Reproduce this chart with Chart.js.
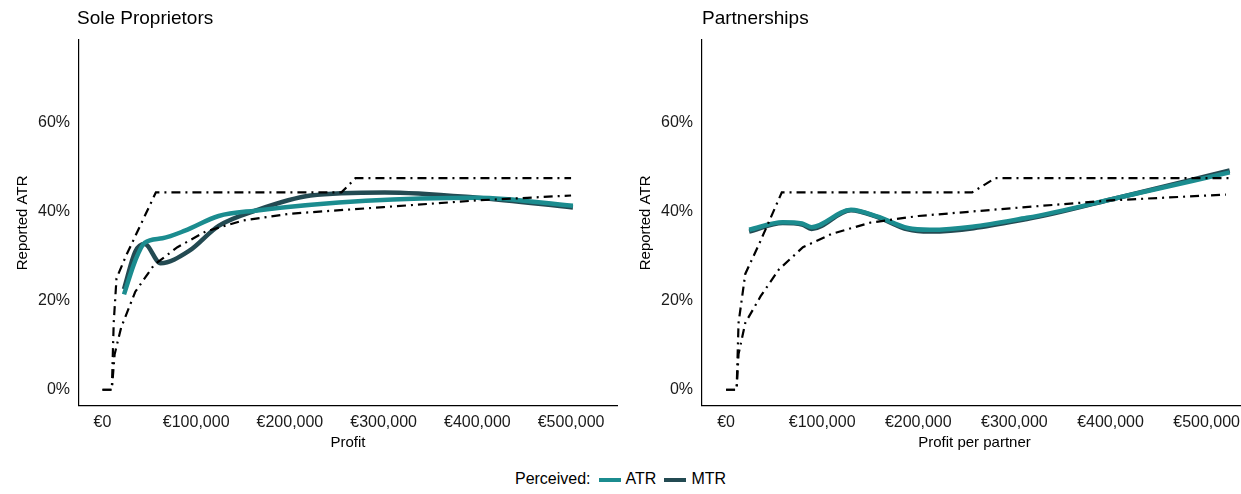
<!DOCTYPE html>
<html>
<head>
<meta charset="utf-8">
<script src="https://cdn.jsdelivr.net/npm/chart.js@4"></script>
<style>
  body { margin: 0; background: #fff; font-family: "Liberation Sans", Arial, sans-serif; overflow: hidden; }
  .panel { position: absolute; top: 0; height: 456px; }
  #left { left: 0; width: 624px; }
  #right { left: 624px; width: 623px; }
  .title { position: absolute; top: 7px; font-size: 19px; color: #000; }
  #legend { position: absolute; top: 470px; left: 0; width: 1241px; text-align: center; font-size: 16px; color: #000; }
  #legend span.sw { display: inline-block; width: 22px; height: 4px; vertical-align: middle; margin: 0 5px 0 8px; }
</style>
</head>
<body>
<div class="panel" id="left"><canvas id="c1"></canvas></div>
<div class="panel" id="right"><canvas id="c2"></canvas></div>
<div class="title" style="left:77px">Sole Proprietors</div>
<div class="title" style="left:702px">Partnerships</div>
<div id="legend">Perceived:<span class="sw" style="background:#1b8c8f"></span>ATR<span class="sw" style="background:#234a52"></span>MTR</div>
<script>
// Sole proprietors (profit in €, rate in %)
var soleAtrX = [23000, 35000, 45000, 64000, 88000, 124000, 163000, 281000, 400000, 502000];
var soleAtrY = [21.4, 29, 33, 34, 35.7, 39, 40.2, 42.4, 43.1, 41.3];
var soleMtrX = [23000, 35000, 45000, 62000, 92000, 124000, 163000, 222000, 301000, 400000, 502000];
var soleMtrY = [22.6, 31, 32.7, 28.4, 31.1, 36.8, 40.2, 43.6, 44.3, 43.1, 40.9];
var soleStatMtrX = [0, 10000, 12000, 15000, 25000, 57000, 255000, 270000, 500000];
var soleStatMtrY = [0, 0, 15, 25, 30, 44.3, 44.3, 47.5, 47.5];
var soleStatAtrX = [0, 10000, 13000, 20000, 35000, 55000, 80000, 110000, 150000, 200000, 300000, 400000, 500000];
var soleStatAtrY = [0, 0, 8, 14, 22, 28, 32, 35.5, 38, 39.5, 41, 42.5, 43.6];

// Partnerships (profit per partner)
var partAtrX = [24000, 59000, 79000, 89000, 130000, 157000, 189000, 212000, 313000, 410000, 524000];
var partAtrY = [35.9, 37.6, 37.3, 36.5, 40.4, 38.9, 36.3, 35.9, 38.6, 43.2, 48.8];
var partMtrX = [24000, 59000, 79000, 89000, 130000, 157000, 189000, 212000, 313000, 410000, 524000];
var partMtrY = [35.5, 37.4, 37.1, 36.1, 40.3, 38.8, 36.0, 35.5, 38.3, 43.2, 49.2];
var partStatMtrX = [0, 11000, 13000, 20000, 35000, 58000, 256000, 280000, 525000];
var partStatMtrY = [0, 0, 15, 26, 33, 44.3, 44.3, 47.5, 47.5];
var partStatAtrX = [0, 11000, 13000, 20000, 36000, 55000, 80000, 110000, 150000, 200000, 300000, 400000, 520000];
var partStatAtrY = [0, 0, 8, 15, 21, 27, 32, 35, 37.5, 39, 40.8, 42.5, 43.8];

var xTicks = [0, 100000, 200000, 300000, 400000, 500000];
var yTicks = [0, 20, 40, 60];

function pts(xs, ys) {
    return xs.map(function (x, i) { return { x: x, y: ys[i] }; });
}

function fmtEuro(v) {
    return '€' + v.toLocaleString('en-US');
}

var FONT = { family: '"Liberation Sans", Arial, sans-serif', size: 16 };

function makeChart(id, sets, xTitle, xMax, padLeft, padRight) {
    var ds = [
        { data: pts(sets[2], sets[3]), borderColor: '#000', borderWidth: 2.2, borderDash: [9, 5, 2, 5], tension: 0 },
        { data: pts(sets[4], sets[5]), borderColor: '#000', borderWidth: 2.2, borderDash: [9, 5, 2, 5], tension: 0 },
        { data: pts(sets[0], sets[1]), borderColor: '#1b8c8f', borderWidth: 4.5, tension: 0.4, cubicInterpolationMode: 'monotone' },
        { data: pts(sets[6], sets[7]), borderColor: '#234a52', borderWidth: 4.5, tension: 0.4, cubicInterpolationMode: 'monotone' }
    ];
    ds.forEach(function (d) { d.pointRadius = 0; d.fill = false; });
    return new Chart(document.getElementById(id), {
        type: 'line',
        data: { datasets: ds },
        options: {
            responsive: true,
            maintainAspectRatio: false,
            animation: false,
            layout: { padding: { top: 40, left: padLeft, right: padRight } },
            plugins: { legend: { display: false }, tooltip: { enabled: false } },
            scales: {
                x: {
                    type: 'linear', min: -25000, max: xMax,
                    afterBuildTicks: function (ax) { ax.ticks = xTicks.map(function (v) { return { value: v }; }); },
                    ticks: { color: '#1a1a1a', font: FONT, callback: function (v) { return fmtEuro(v); }, maxRotation: 0, padding: 2 },
                    grid: { display: false, drawTicks: true, tickLength: 5, tickColor: '#333' },
                    border: { color: '#000', width: 1.2 },
                    title: { display: true, text: xTitle, color: '#000', font: { family: FONT.family, size: 15 }, padding: { top: 0 } }
                },
                y: {
                    min: -3.6, max: 78.5,
                    afterBuildTicks: function (ax) { ax.ticks = yTicks.map(function (v) { return { value: v }; }); },
                    ticks: { color: '#1a1a1a', font: FONT, callback: function (v) { return v + '%'; }, padding: 4 },
                    grid: { display: false, drawTicks: true, tickLength: 5, tickColor: '#333' },
                    border: { color: '#000', width: 1.2 },
                    title: { display: true, text: 'Reported ATR', color: '#000', font: { family: FONT.family, size: 15 }, padding: { bottom: 2 } }
                }
            }
        }
    });
}

makeChart('c1', [soleAtrX, soleAtrY, soleStatMtrX, soleStatMtrY, soleStatAtrX, soleStatAtrY, soleMtrX, soleMtrY],
    'Profit', 549000, 10, 7);
makeChart('c2', [partAtrX, partAtrY, partStatMtrX, partStatMtrY, partStatAtrX, partStatAtrY, partMtrX, partMtrY],
    'Profit per partner', 542000, 9, 0);
</script>
</body>
</html>
